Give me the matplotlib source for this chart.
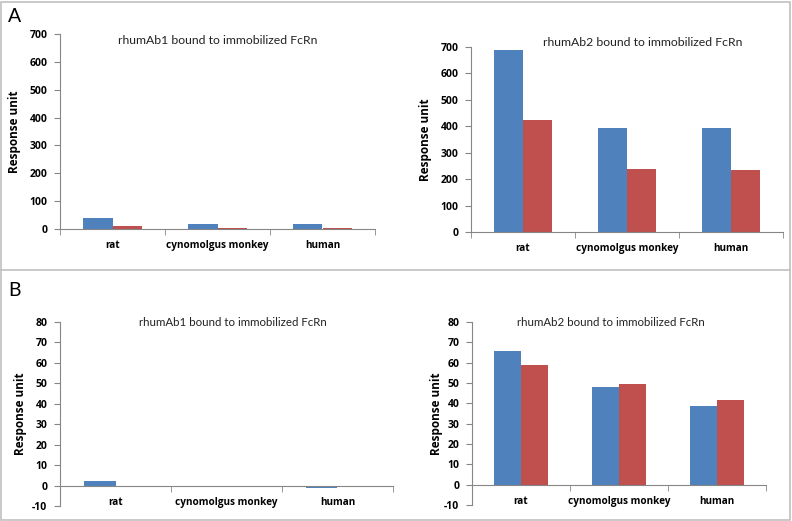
import matplotlib.pyplot as plt
from matplotlib.patches import Rectangle
from matplotlib.lines import Line2D
import numpy as np

plt.rcParams['font.family'] = ['Lato', 'DejaVu Sans']

species = ["rat", "cynomolgus monkey", "human"]

# panel A
a1_blue = [40, 17, 17]
a1_red = [12, 3, 3]
a2_blue = [687, 395, 392]
a2_red = [425, 238, 235]
# panel B
b1_blue = [2, -0.5, -1]
b1_red = [-0.5, -0.5, -0.5]
b2_blue = [65.5, 48, 38.5]
b2_red = [59, 49.5, 41.5]

titles = ["rhumAb1 bound to immobilized FcRn", "rhumAb2 bound to immobilized FcRn"]

BLUE = "#4F81BD"
RED = "#C0504D"
W, H = 792, 521
BOLD = dict(family=["Open Sans", "DejaVu Sans"], weight="bold")

fig = plt.figure(figsize=(W / 100, H / 100), dpi=100)


def px_axes(left, right, top, bottom):
    return fig.add_axes([left / W, 1 - bottom / H, (right - left) / W, (bottom - top) / H])


def draw(ax, blue, red, ylim, step, title, title_xy, tsize):
    x = np.arange(len(species))
    w = 0.28
    ax.bar(x - w / 2, blue, w, color=BLUE)
    ax.bar(x + w / 2, red, w, color=RED)
    ax.set_xlim(-0.5, len(species) - 0.5)
    ax.set_ylim(*ylim)
    ticks = np.arange(ylim[0], ylim[1] + 1, step)
    ax.set_yticks(ticks)
    ax.set_yticklabels([str(t) for t in ticks], fontsize=7.5, **BOLD)
    for s in ["top", "right"]:
        ax.spines[s].set_visible(False)
    ax.spines["bottom"].set_position(("data", 0))
    for s in ["left", "bottom"]:
        ax.spines[s].set_color("#868686")
        ax.spines[s].set_linewidth(0.8)
    ax.set_xticks(x)
    ax.set_xticklabels(species, fontsize=7.2, **BOLD)
    ax.set_xticks(np.arange(-0.5, len(species)), minor=True)
    ax.tick_params(axis="x", which="major", length=0, pad=8)
    ax.tick_params(axis="x", which="minor", length=4, color="#868686", direction="out")
    ax.tick_params(axis="y", length=4, color="#868686", direction="out", pad=5)
    ax.set_ylabel("Response unit", fontsize=8.5, **BOLD)
    fig.text(title_xy[0] / W, 1 - title_xy[1] / H, title, fontsize=tsize,
             ha="center", va="center", color="#222222")


ax = px_axes(60, 375, 34, 229)
draw(ax, a1_blue, a1_red, (0, 700), 100, titles[0], (218, 40), 8.8)
ax.yaxis.set_label_coords(-0.125, 0.5)

ax = px_axes(471, 783, 47, 232)
draw(ax, a2_blue, a2_red, (0, 700), 100, titles[1], (643, 42), 8.8)
ax.yaxis.set_label_coords(-0.125, 0.5)

ax = px_axes(60, 393, 322, 506)
draw(ax, b1_blue, b1_red, (-10, 80), 10, titles[0], (233, 322), 8.3)
ax.yaxis.set_label_coords(-0.1, 0.5)

ax = px_axes(472, 766, 322, 505)
draw(ax, b2_blue, b2_red, (-10, 80), 10, titles[1], (611, 322), 8.3)
ax.yaxis.set_label_coords(-0.1, 0.5)

# panel letters and frame
fig.text(8 / W, 1 - 17 / H, "A", fontsize=14, va="center", ha="left")
fig.text(8 / W, 1 - 290 / H, "B", fontsize=14, va="center", ha="left")
fig.add_artist(Rectangle((1 / W, 1 / H), (W - 3) / W, (H - 3) / H, transform=fig.transFigure,
                         fill=False, edgecolor="#c0c0c0", linewidth=1.2))
fig.add_artist(Line2D([1 / W, (W - 2) / W], [1 - 270 / H, 1 - 270 / H], transform=fig.transFigure,
                      color="#c0c0c0", linewidth=1.2))

fig.savefig("out.png", dpi=100)
